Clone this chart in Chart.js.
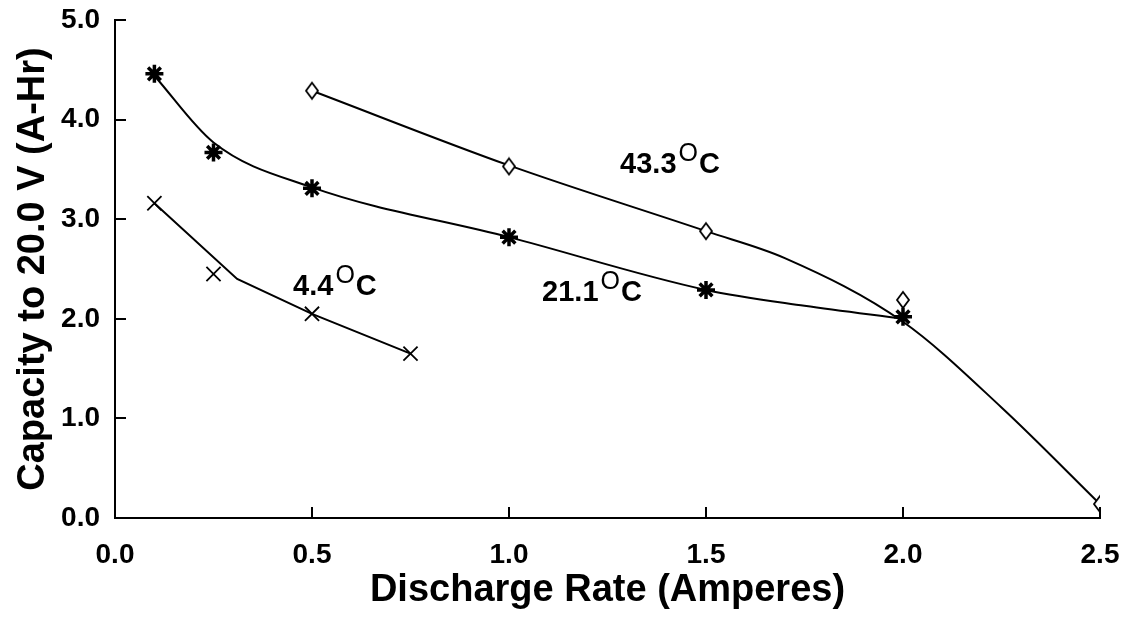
<!DOCTYPE html>
<html>
<head>
<meta charset="utf-8">
<script src="https://cdn.jsdelivr.net/npm/chart.js@4.4.1/dist/chart.umd.min.js"></script>
<style>
  html, body { margin: 0; padding: 0; background: #ffffff; }
  #wrap { width: 1125px; height: 622px; position: relative; }
</style>
</head>
<body>
<div id="wrap"><canvas id="c"></canvas></div>
<script>
// ---- Data ----
const xTickValues = [0, 0.5, 1.0, 1.5, 2.0, 2.5];
const yTickValues = [0, 1, 2, 3, 4, 5];

// measured points
const rate44 = [0.1, 0.25, 0.5, 0.75];
const cap44  = [3.16, 2.45, 2.05, 1.65];
const rate21 = [0.1, 0.25, 0.5, 1.0, 1.5, 2.0];
const cap21  = [4.46, 3.67, 3.31, 2.82, 2.29, 2.02];
const rate43 = [0.5, 1.0, 1.5, 2.0, 2.5];
const cap43  = [4.29, 3.53, 2.88, 2.19, 0.14];

// fitted curves
const fitRate44 = [0.1, 0.31, 0.5, 0.75];
const fitCap44  = [3.16, 2.40, 2.05, 1.65];
const fitRate21 = [0.1, 0.25, 0.5, 1.0, 1.5, 1.75, 2.0];
const fitCap21  = [4.44, 3.77, 3.32, 2.82, 2.29, 2.13, 2.0];
const fitRate43 = [0.5, 1.0, 1.5, 1.7, 2.0, 2.25, 2.5];
const fitCap43  = [4.29, 3.54, 2.88, 2.61, 1.97, 1.11, 0.14];

// curve labels
const labelTemps = ['4.4', '21.1', '43.3'];
const labelDegree = 'O';
const labelUnit = 'C';

const xTitle = 'Discharge Rate (Amperes)';
const yTitle = 'Capacity to 20.0 V (A-Hr)';

// ---- helpers ----
const pts = (xs, ys) => xs.map((x, i) => ({ x: x, y: ys[i] }));

function diamondCanvas() {
  const c = document.createElement('canvas');
  c.width = 16; c.height = 20;
  const g = c.getContext('2d');
  g.fillStyle = '#fff';
  g.strokeStyle = '#000';
  g.lineWidth = 1.8;
  g.beginPath();
  g.moveTo(8, 2); g.lineTo(14, 10); g.lineTo(8, 18); g.lineTo(2, 10); g.closePath();
  g.fill(); g.stroke();
  return c;
}
const diamond = diamondCanvas();

// label anchors (data coordinates: rate, capacity at text baseline)
const labelAnchors = [
  { rate: 0.452, cap: 2.24 },
  { rate: 1.084, cap: 2.18 },
  { rate: 1.282, cap: 3.46 }
];

const inwardTicks = {
  id: 'inwardTicks',
  afterDraw(chart) {
    const { ctx, scales: { x, y } } = chart;
    ctx.save();
    ctx.strokeStyle = '#000';
    ctx.lineWidth = 2;
    ctx.beginPath();
    yTickValues.forEach(v => {
      if (v === 0) return;
      const py = Math.round(y.getPixelForValue(v));
      ctx.moveTo(x.left, py); ctx.lineTo(x.left + 11, py);
    });
    xTickValues.forEach(v => {
      if (v === 0) return;
      const px = Math.round(x.getPixelForValue(v));
      ctx.moveTo(px, y.bottom); ctx.lineTo(px, y.bottom - 11);
    });
    ctx.stroke();

    // curve labels
    ctx.fillStyle = '#000';
    ctx.textBaseline = 'alphabetic';
    ctx.textAlign = 'left';
    labelTemps.forEach((t, i) => {
      const a = labelAnchors[i];
      let px = x.getPixelForValue(a.rate);
      const py = y.getPixelForValue(a.cap);
      ctx.font = 'bold 29px "Liberation Sans", Arial, sans-serif';
      ctx.fillText(t, px, py);
      px += ctx.measureText(t).width + 2;
      ctx.font = '25px "Liberation Sans", Arial, sans-serif';
      ctx.fillText(labelDegree, px, py - 12);
      px += ctx.measureText(labelDegree).width + 1;
      ctx.font = 'bold 29px "Liberation Sans", Arial, sans-serif';
      ctx.fillText(labelUnit, px, py);
    });
    ctx.restore();
  }
};

const lineStyle = {
  showLine: true, pointRadius: 0, borderColor: '#000', borderWidth: 2,
  fill: false, backgroundColor: '#000'
};

new Chart(document.getElementById('c'), {
  type: 'scatter',
  data: {
    datasets: [
      { label: '43.3 pts', data: pts(rate43, cap43), pointStyle: diamond, pointRadius: 8,
        borderColor: '#000', backgroundColor: '#fff', showLine: false },
      { label: '21.1 pts', data: pts(rate21, cap21), pointStyle: 'star', pointRadius: 9,
        borderColor: '#000', borderWidth: 3.5, backgroundColor: '#000', showLine: false },
      { label: '4.4 pts', data: pts(rate44, cap44), pointStyle: 'crossRot', pointRadius: 10,
        borderColor: '#000', borderWidth: 1.8, backgroundColor: '#000', showLine: false },
      Object.assign({ label: '43.3 fit', data: pts(fitRate43, fitCap43), cubicInterpolationMode: 'monotone' }, lineStyle),
      Object.assign({ label: '21.1 fit', data: pts(fitRate21, fitCap21), cubicInterpolationMode: 'monotone' }, lineStyle),
      Object.assign({ label: '4.4 fit', data: pts(fitRate44, fitCap44), tension: 0 }, lineStyle)
    ]
  },
  options: {
    responsive: true,
    maintainAspectRatio: false,
    animation: false,
    devicePixelRatio: 1,
    layout: { padding: { left: 0, top: 20, right: 25, bottom: 0 } },
    plugins: { legend: { display: false }, tooltip: { enabled: false } },
    scales: {
      x: {
        type: 'linear', min: 0, max: 2.5,
        afterFit: s => { s.height = 104; s.paddingLeft = 0; s.paddingRight = 0; },
        afterBuildTicks: s => { s.ticks = xTickValues.map(v => ({ value: v })); },
        ticks: {
          callback: v => Number(v).toFixed(1),
          color: '#000', padding: 20,
          font: { family: '"Liberation Sans", Arial, sans-serif', size: 28, weight: 'bold' },
          maxRotation: 0
        },
        grid: { display: true, drawOnChartArea: false, drawTicks: false, tickLength: 0 },
        border: { display: true, color: '#000', width: 2 },
        title: {
          display: true, text: xTitle, color: '#000',
          font: { family: '"Liberation Sans", Arial, sans-serif', size: 38, weight: 'bold' },
          padding: { top: 0, bottom: 9 }
        }
      },
      y: {
        type: 'linear', min: 0, max: 5,
        afterFit: s => { s.width = 115; s.paddingTop = 0; s.paddingBottom = 0; },
        afterBuildTicks: s => { s.ticks = yTickValues.map(v => ({ value: v })); },
        ticks: {
          callback: v => Number(v).toFixed(1),
          color: '#000', padding: 15,
          font: { family: '"Liberation Sans", Arial, sans-serif', size: 28, weight: 'bold' }
        },
        grid: { display: true, drawOnChartArea: false, drawTicks: false, tickLength: 0 },
        border: { display: true, color: '#000', width: 2 },
        title: {
          display: true, text: yTitle, color: '#000',
          font: { family: '"Liberation Sans", Arial, sans-serif', size: 38, weight: 'bold' },
          padding: { top: 11, bottom: 0 }
        }
      }
    }
  },
  plugins: [inwardTicks]
});
</script>
</body>
</html>
